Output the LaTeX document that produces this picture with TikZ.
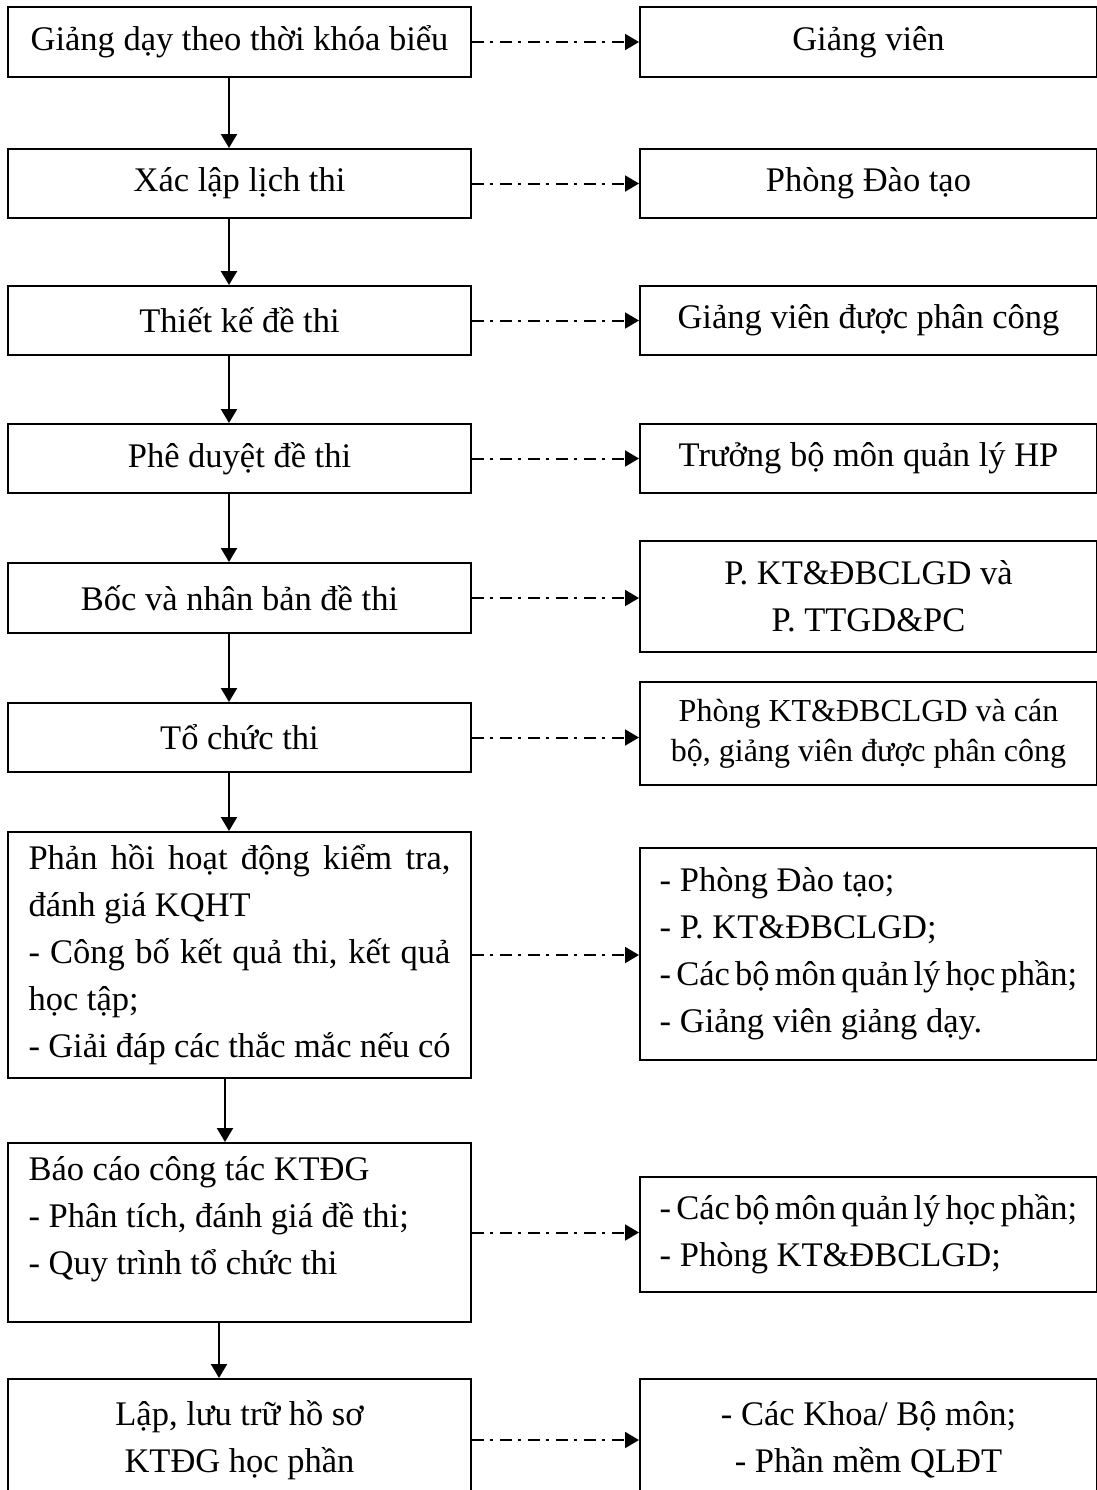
\documentclass[tikz,border=0pt]{standalone}
\usepackage{fontspec}
\setmainfont{Liberation Serif}
\usepackage{tikz}
\usetikzlibrary{
    arrows.meta,
    shapes,
    positioning,
    calc
}
\newcommand{\spreadline}[1]{\makebox[\linewidth][s]{#1}}
\newcommand{\tightline}[1]{{\spaceskip=0.15em plus 0.05em minus 0.02em #1}}
\tikzset{%
    >={Triangle[width=8pt,length=7pt]},
    % Specifications for style of nodes:
    base/.style = {
        rectangle, draw=black, line width=1pt,
        font=\fontsize{17.25}{23.5}\selectfont,
        fill=white, inner ysep=4pt
    },
    task/.style = {base, minimum width=231.5pt, inner xsep=10.25pt, align=center},
    actor/.style = {base, minimum width=228.5pt, inner xsep=8pt, align=center},
    flow/.style = {->, line width=1.1pt},
    link/.style = {->, line width=1pt, dash pattern=on 6pt off 3pt on 1.5pt off 3.5pt}
}

\begin{document}
\begin{tikzpicture}[x=0.5pt, y=-0.5pt]
    \useasboundingbox (0,0) rectangle (1097,1490);
    \clip (0,0) rectangle (1097,1490);

    \node[task, minimum height=35pt] (giangday) at (239.5,42) {Giảng dạy theo thời khóa biểu};
    \node[task, minimum height=34.5pt] (lichthi) at (239.5,183.5) {Xác lập lịch thi};
    \node[task, minimum height=34.5pt] (thietke) at (239.5,320.5) {Thiết kế đề thi};
    \node[task, minimum height=34.5pt] (pheduyet) at (239.5,458.5) {Phê duyệt đề thi};
    \node[task, minimum height=35pt] (nhanban) at (239.5,598) {Bốc và nhân bản đề thi};
    \node[task, minimum height=34.5pt] (tochuc) at (239.5,737.5) {Tổ chức thi};
    \node[task, minimum height=123pt, align=flush left, text width=211pt] (phanhoi) at (239.5,955) {\spreadline{Phản hồi hoạt động kiểm tra,}\\
        đánh giá KQHT\\
        \spreadline{- Công bố kết quả thi, kết quả}\\
        học tập;\\
        - Giải đáp các thắc mắc nếu có};
    \node[task, minimum height=89.5pt, align=flush left, text width=211pt, text height=12pt, text depth=64.5pt] (baocao) at (239.5,1232.5) {Báo cáo công tác KTĐG\\
        - Phân tích, đánh giá đề thi;\\
        - Quy trình tổ chức thi};
    \node[task, minimum height=61pt] (luutru) at (239.5,1440) {Lập, lưu trữ hồ sơ\\KTĐG học phần};

    \node[actor, minimum height=35pt] (giangvien) at (868.5,42) {Giảng viên};
    \node[actor, minimum height=34.5pt] (daotao) at (868.5,183.5) {Phòng Đào tạo};
    \node[actor, minimum height=34.5pt] (phancong) at (868.5,320.5) {Giảng viên được phân công};
    \node[actor, minimum height=34.5pt] (truongbm) at (868.5,458.5) {Trưởng bộ môn quản lý HP};
    \node[actor, minimum height=55.5pt] (haiphong) at (868.5,596.5) {P. KT\&ĐBCLGD và\\P. TTGD\&PC};
    \node[actor, minimum height=51.5pt, font=\fontsize{16}{20}\selectfont] (canbo) at (868.5,733.5) {Phòng KT\&ĐBCLGD và cán\\bộ, giảng viên được phân công};
    \node[actor, minimum height=106pt, align=left] (donvi) at (868.5,954) {- Phòng Đào tạo;\\
        - P. KT\&ĐBCLGD;\\
        \tightline{- Các bộ môn quản lý học phần;}\\
        - Giảng viên giảng dạy.};
    \node[actor, minimum height=57.5pt, align=left] (bomon) at (868.5,1234.5) {\tightline{- Các bộ môn quản lý học phần;}\\
        - Phòng KT\&ĐBCLGD;};
    \node[actor, minimum height=61pt] (khoa) at (868.5,1440) {- Các Khoa/ Bộ môn;\\- Phần mềm QLĐT};

    \draw[flow] ([xshift=-5.25pt]giangday.south) -- ([xshift=-5.25pt]lichthi.north);
    \draw[flow] ([xshift=-5.25pt]lichthi.south) -- ([xshift=-5.25pt]thietke.north);
    \draw[flow] ([xshift=-5.25pt]thietke.south) -- ([xshift=-5.25pt]pheduyet.north);
    \draw[flow] ([xshift=-5.25pt]pheduyet.south) -- ([xshift=-5.25pt]nhanban.north);
    \draw[flow] ([xshift=-5.25pt]nhanban.south) -- ([xshift=-5.25pt]tochuc.north);
    \draw[flow] ([xshift=-5.25pt]tochuc.south) -- ([xshift=-5.25pt]phanhoi.north);
    \draw[flow] ([xshift=-7.25pt]phanhoi.south) -- ([xshift=-7.25pt]baocao.north);
    \draw[flow] ([xshift=-10.25pt]baocao.south) -- ([xshift=-10.25pt]luutru.north);

    \draw[link] (giangday.east) -- (giangday.east -| giangvien.west);
    \draw[link] (lichthi.east) -- (lichthi.east -| daotao.west);
    \draw[link] (thietke.east) -- (thietke.east -| phancong.west);
    \draw[link] (pheduyet.east) -- (pheduyet.east -| truongbm.west);
    \draw[link] (nhanban.east) -- (nhanban.east -| haiphong.west);
    \draw[link] (tochuc.east) -- (tochuc.east -| canbo.west);
    \draw[link] (phanhoi.east) -- (phanhoi.east -| donvi.west);
    \draw[link] (baocao.east) -- (baocao.east -| bomon.west);
    \draw[link] (luutru.east) -- (luutru.east -| khoa.west);
\end{tikzpicture}
\end{document}
